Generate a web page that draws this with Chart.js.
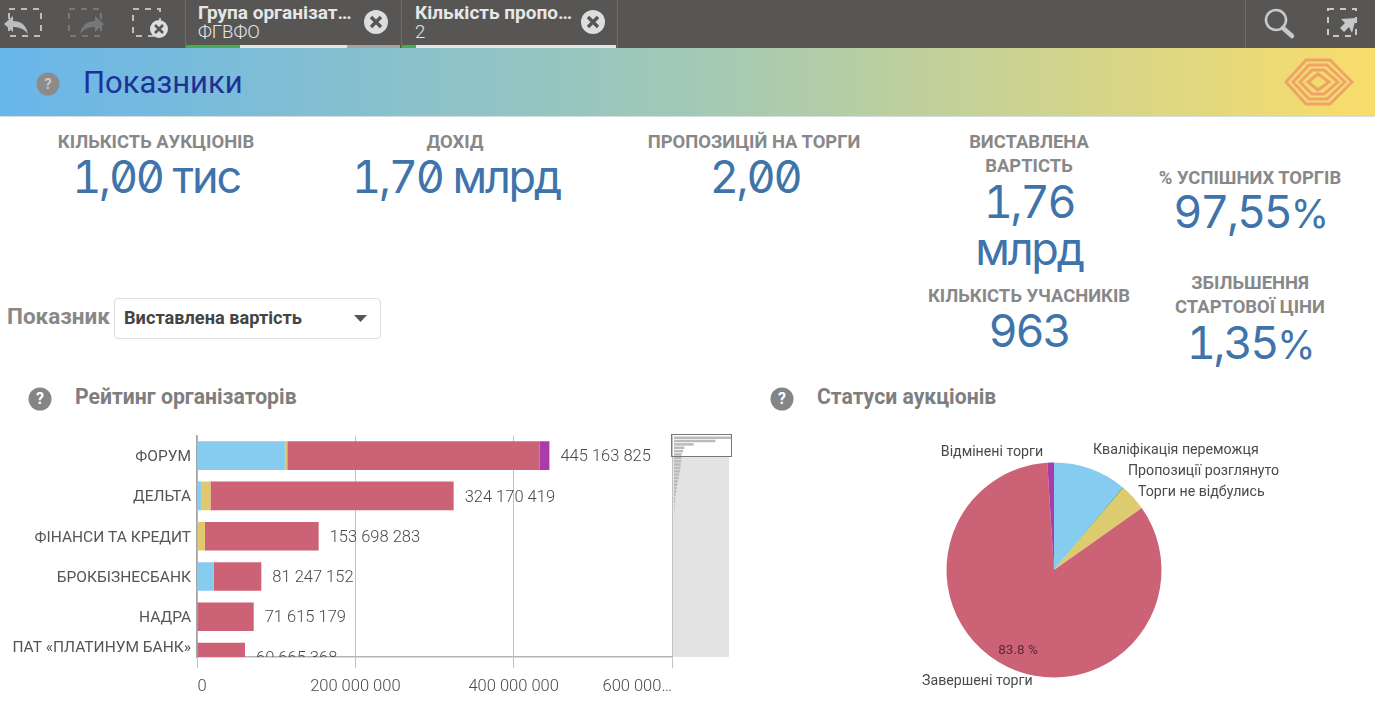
<!DOCTYPE html>
<html lang="uk"><head><meta charset="utf-8">
<script src="https://cdn.jsdelivr.net/npm/chart.js@4"></script>
<style>
html,body{margin:0;padding:0;background:#fff;overflow:hidden}
body{width:1375px;height:705px;position:relative;font-family:Roboto,"Noto Sans",sans-serif}
.t{position:absolute;transform:translate(-50%,-50%);white-space:nowrap;line-height:1}
.k{color:#888;font-weight:700;font-size:18.4px}
.v{color:#3f74ab;font-family:Inter,Roboto,sans-serif;font-weight:400;font-size:45px;letter-spacing:-.05em;font-feature-settings:"zero","tnum"}
.v span{font-size:39px}
.l{position:absolute;white-space:nowrap;line-height:1}
.abs{position:absolute}
canvas{position:absolute}
</style></head><body>
<div class="abs" style="left:0;top:0;width:1375px;height:48px;background:#575655"></div>
<div class="abs" style="left:185px;top:0;width:1px;height:48px;background:#6e6d6c"></div>
<div class="abs" style="left:401px;top:0;width:1px;height:48px;background:#6e6d6c"></div>
<div class="abs" style="left:617px;top:0;width:1px;height:48px;background:#6e6d6c"></div>
<div class="abs" style="left:1245px;top:0;width:1px;height:48px;background:#6e6d6c"></div>
<svg class="abs" style="left:0;top:0" width="1375" height="48" fill="none">
<g stroke="#bdbdbd" stroke-width="2" stroke-dasharray="6 6"><rect x="9" y="9" width="32" height="27"/></g>
<path d="M4 24 L13 16 V21 C20 21 26 24 28 34 C24 29 20 27 13 27 V32 Z" fill="#bdbdbd"/>
<g stroke="#777" stroke-width="2" stroke-dasharray="6 6"><rect x="69" y="9" width="32" height="27"/></g>
<path d="M104 24 L95 16 V21 C88 21 82 24 80 34 C84 29 88 27 95 27 V32 Z" fill="#777"/>
<g stroke="#bdbdbd" stroke-width="2" stroke-dasharray="6 6"><rect x="133" y="9" width="27" height="27"/></g>
<circle cx="159" cy="29" r="9" fill="#ddd"/><path d="M155 25l8 8M163 25l-8 8" stroke="#575655" stroke-width="2.6"/>
<circle cx="376" cy="22" r="12" fill="#ddd"/><path d="M371 17l10 10M381 17l-10 10" stroke="#575655" stroke-width="3.4"/>
<circle cx="593" cy="22" r="12" fill="#ddd"/><path d="M588 17l10 10M598 17l-10 10" stroke="#575655" stroke-width="3.4"/>
<circle cx="1276" cy="20" r="10" stroke="#c8c8c8" stroke-width="2.6"/><path d="M1283 28l9 8" stroke="#c8c8c8" stroke-width="4.5" stroke-linecap="round"/>
<g stroke="#c8c8c8" stroke-width="2" stroke-dasharray="6 6"><rect x="1328" y="9" width="28" height="27"/></g>
<path d="M1341 19 L1356 18 L1352 33 L1349 27 L1344 32 L1340 28 L1345 23 Z" fill="#c8c8c8"/>
</svg>
<div class="abs" style="left:186px;top:45px;width:54px;height:3px;background:#3fb04a"></div>
<div class="abs" style="left:240px;top:45px;width:107px;height:3px;background:#e6e6e6"></div>
<div class="abs" style="left:347px;top:45px;width:53px;height:3px;background:#a3a3a3"></div>
<div class="abs" style="left:402px;top:45px;width:14px;height:3px;background:#3fb04a"></div>
<div class="abs" style="left:416px;top:45px;width:200px;height:3px;background:#e6e6e6"></div>
<div class="l" style="left:198px;top:3px;font-size:19px;font-weight:700;color:#e6e6e6">Група організат…</div>
<div class="l" style="left:198px;top:23px;font-size:18.6px;font-weight:300;color:#e6e6e6">ФГВФО</div>
<div class="l" style="left:415px;top:3px;font-size:19px;font-weight:700;color:#e6e6e6">Кількість пропо…</div>
<div class="l" style="left:415px;top:23px;font-size:18.6px;font-weight:300;color:#e6e6e6">2</div>

<div class="abs" style="left:0;top:48px;width:1375px;height:68px;background:linear-gradient(90deg,#68b6ea 0%,#a1c9b6 50%,#f9dd6a 100%);box-shadow:0 1px 0 #d4dde0"></div>
<svg class="abs" style="left:36px;top:72px" width="24" height="24"><circle cx="12" cy="12" r="11.5" fill="#8b8b8b"/></svg>
<div class="t" style="left:48px;top:84px;color:#c8c8c8;font-size:15px;font-weight:700">?</div>
<div class="l" style="left:83px;top:67px;font-size:31px;color:#1f3196">Показники</div>
<svg class="abs" style="left:1284px;top:57px" width="70" height="50" fill="none" stroke="#f0a268" stroke-width="3">
<path d="M2 25 L22 3 H46 L68 25 L46 47 H22 Z"/><path d="M9 25 L25 8 H43 L61 25 L43 42 H25 Z"/><path d="M16 25 L28 13 H40 L54 25 L40 37 H28 Z"/><path d="M24 25 L34 17 L45 25 L34 33 Z"/>
</svg>

<div class="t k" style="left:156px;top:142px">КІЛЬКІСТЬ АУКЦІОНІВ</div>
<div class="t v" style="left:156px;top:176px">1,00 тис</div>
<div class="t k" style="left:455px;top:142px">ДОХІД</div>
<div class="t v" style="left:456px;top:176px">1,70 млрд</div>
<div class="t k" style="left:754px;top:142px">ПРОПОЗИЦІЙ НА ТОРГИ</div>
<div class="t v" style="left:755px;top:176px">2,00</div>
<div class="t k" style="left:1029px;top:142px">ВИСТАВЛЕНА</div>
<div class="t k" style="left:1029px;top:166px">ВАРТІСТЬ</div>
<div class="t v" style="left:1029px;top:201px">1,76</div>
<div class="t v" style="left:1029px;top:248px">млрд</div>
<div class="t k" style="left:1029px;top:296px">КІЛЬКІСТЬ УЧАСНИКІВ</div>
<div class="t v" style="left:1029px;top:330px">963</div>
<div class="t k" style="left:1250px;top:178px">% УСПІШНИХ ТОРГІВ</div>
<div class="t v" style="left:1250px;top:211px">97,55<span>%</span></div>
<div class="t k" style="left:1250px;top:283px">ЗБІЛЬШЕННЯ</div>
<div class="t k" style="left:1250px;top:307px">СТАРТОВОЇ ЦІНИ</div>
<div class="t v" style="left:1250px;top:342px">1,35<span>%</span></div>

<div class="l" style="left:7px;top:305px;font-size:22.5px;font-weight:700;color:#888">Показник</div>
<div class="abs" style="left:114px;top:298px;width:265px;height:39px;border:1px solid #ddd;border-radius:4px;background:#fff"></div>
<div class="l" style="left:124px;top:309px;font-size:18.2px;font-weight:700;color:#444">Виставлена вартість</div>
<svg class="abs" style="left:354px;top:314px" width="14" height="10"><path d="M0 1H13L6.5 8Z" fill="#555"/></svg>

<svg class="abs" style="left:28px;top:387px" width="24" height="24"><circle cx="12" cy="12" r="11.5" fill="#858585"/></svg>
<div class="t" style="left:40px;top:399px;color:#fff;font-size:16px;font-weight:700">?</div>
<div class="l" style="left:75px;top:386px;font-size:21.2px;font-weight:700;color:#7e7e7e">Рейтинг організаторів</div>
<svg class="abs" style="left:770px;top:387px" width="24" height="24"><circle cx="12" cy="12" r="11.5" fill="#858585"/></svg>
<div class="t" style="left:782px;top:399px;color:#fff;font-size:16px;font-weight:700">?</div>
<div class="l" style="left:817px;top:386px;font-size:21.2px;font-weight:700;color:#7e7e7e">Статуси аукціонів</div>

<div class="abs" style="left:672px;top:435px;width:57px;height:222px;background:#e3e3e3"></div>
<div class="abs" style="left:672px;top:435px;width:59px;height:22px;background:#fff"></div>
<canvas id="bar" width="740" height="275" style="left:0;top:430px"></canvas>
<canvas id="mini" width="59" height="85" style="left:672px;top:435px"></canvas>
<div class="abs" style="left:671px;top:434px;width:59px;height:21px;border:1.5px solid #777"></div>
<canvas id="pie" width="500" height="270" style="left:804px;top:435px"></canvas>

<script>
const categories = ["ФОРУМ","ДЕЛЬТА","ФІНАНСИ ТА КРЕДИТ","БРОКБІЗНЕСБАНК","НАДРА","ПАТ «ПЛАТИНУМ БАНК»"];
const totals = [445163825,324170419,153698283,81247152,71615179,60665368];
const qualification = [111000000,5000000,1000000,21000000,0,0];
const notHeld = [3000000,12000000,9000000,0,0,0];
const completed = [319000000,307170419,143698283,60247152,71615179,60665368];
const cancelled = [12163825,0,0,0,0,0];
const xTicks = [0,200000000,400000000,600000000];

const miniValues = [445,324,153,81,71,60,58,56,52,50,46,40,36,30,26,22,18,14,10,8,5,3,2,1,1];

const pieLabels = ["Кваліфікація переможця","Пропозиції розглянуто","Торги не відбулись","Завершені торги","Відмінені торги"];
const pieValues = [11,0.2,4,83.8,1];

const BLUE="#86cbf0",YEL="#e0c96c",RED="#cc6276",PUR="#a93ca8";
const fmt=n=>String(n).replace(/\B(?=(\d{3})+(?!\d))/g," ");
const SANS='Roboto,"Noto Sans",sans-serif';

class ClipCategory extends Chart.CategoryScale{
  configure(){super.configure();this._valueRange=this.ticks.length-0.5;}
}
ClipCategory.id="clipCategory";
ClipCategory.defaults={};
Chart.register(ClipCategory);

const labelAdjust={id:"labelAdjust",beforeDraw(c){
  const xi=c.scales.x.getLabelItems();
  xi[0].options.translation[0]+=5;
  xi[xi.length-1].options.textAlign="right";
  const yi=c.scales.y.getLabelItems();
  yi.forEach(it=>{it.options.translation[1]+=1.5;});
  yi[yi.length-1].options.translation[1]-=10.5;
}};
const totalLabels={id:"totalLabels",afterDatasetsDraw(c){
  const {ctx,chartArea:a,scales:{x,y}}=c;
  ctx.save();ctx.beginPath();ctx.rect(0,a.top,c.width,a.bottom-a.top);ctx.clip();
  ctx.font="300 16.5px "+SANS;ctx.fillStyle="#4a4a4a";ctx.textBaseline="middle";ctx.textAlign="left";
  totals.forEach((v,i)=>ctx.fillText(fmt(v),x.getPixelForValue(v)+11,y.getPixelForValue(i)+1.5));
  ctx.restore();
}};
new Chart(document.getElementById("bar"),{type:"bar",
  data:{labels:categories,datasets:[
    {label:"Кваліфікація переможця",data:qualification,backgroundColor:BLUE},
    {label:"Торги не відбулись",data:notHeld,backgroundColor:YEL},
    {label:"Завершені торги",data:completed,backgroundColor:RED},
    {label:"Відмінені торги",data:cancelled,backgroundColor:PUR}]},
  options:{indexAxis:"y",responsive:false,animation:false,devicePixelRatio:1,
    layout:{padding:{top:5.5,right:68,left:0,bottom:0}},
    datasets:{bar:{barPercentage:0.71,categoryPercentage:1}},
    plugins:{legend:{display:false},tooltip:{enabled:false}},
    scales:{
      x:{stacked:true,min:0,max:600000000,
        afterBuildTicks(s){s.ticks=xTicks.map(value=>({value}));},
        afterFit(s){s.height=48;},
        grid:{color:"#c2c2c2",lineWidth:1,tickLength:11,drawTicks:true},
        border:{display:true,color:"#b5b5b5",width:1.5},
        ticks:{autoSkip:false,maxRotation:0,padding:9,color:"#4a4a4a",font:{family:SANS,size:16.5,weight:"300"},
          callback:v=>v===600000000?"600 000…":fmt(v)}},
      y:{type:"clipCategory",stacked:true,offset:true,
        afterFit(s){s.width=197;s.paddingTop=0;s.paddingBottom=0;},
        grid:{display:false,drawTicks:false},
        border:{display:true,color:"#a5a5a5",width:1.5},
        ticks:{autoSkip:false,padding:6,color:"#555",font:{family:SANS,size:15.5}}}
    }},
  plugins:[labelAdjust,totalLabels]});

new Chart(document.getElementById("mini"),{type:"bar",
  data:{labels:miniValues.map((_,i)=>i+1),datasets:[{data:miniValues,backgroundColor:"#bbbbbb"}]},
  options:{indexAxis:"y",responsive:false,animation:false,devicePixelRatio:1,
    layout:{padding:{left:2,top:1,right:0,bottom:0}},
    datasets:{bar:{barPercentage:0.75,categoryPercentage:1}},
    plugins:{legend:{display:false},tooltip:{enabled:false}},
    scales:{x:{display:false,min:0,max:445},y:{display:false}}}});

const pieText={id:"pieText",afterDatasetsDraw(c){
  const {ctx}=c,cx=250,cy=135;
  ctx.save();ctx.font="14.2px "+SANS;ctx.fillStyle="#4a4a4a";ctx.textBaseline="middle";
  const put=(s,x,y,a)=>{ctx.textAlign=a||"left";ctx.fillText(s,cx+x,cy+y);};
  put(pieLabels[0],39,-120);put(pieLabels[1],74,-99);put(pieLabels[2],84,-78);
  put(pieLabels[3],-132,111);put(pieLabels[4],-62,-118,"center");
  ctx.fillStyle="#5d2a36";ctx.font="13.5px "+SANS;
  put(pieValues[3].toFixed(1)+" %",-36,81,"center");
  ctx.restore();
}};
new Chart(document.getElementById("pie"),{type:"pie",
  data:{labels:pieLabels,datasets:[{data:pieValues,
    backgroundColor:[BLUE,"#6fae6a","#dccb6f",RED,PUR],borderWidth:0}]},
  options:{responsive:false,animation:false,devicePixelRatio:1,
    layout:{padding:{top:27.5,bottom:27.5}},
    plugins:{legend:{display:false},tooltip:{enabled:false}}},
  plugins:[pieText]});
</script>
</body></html>
